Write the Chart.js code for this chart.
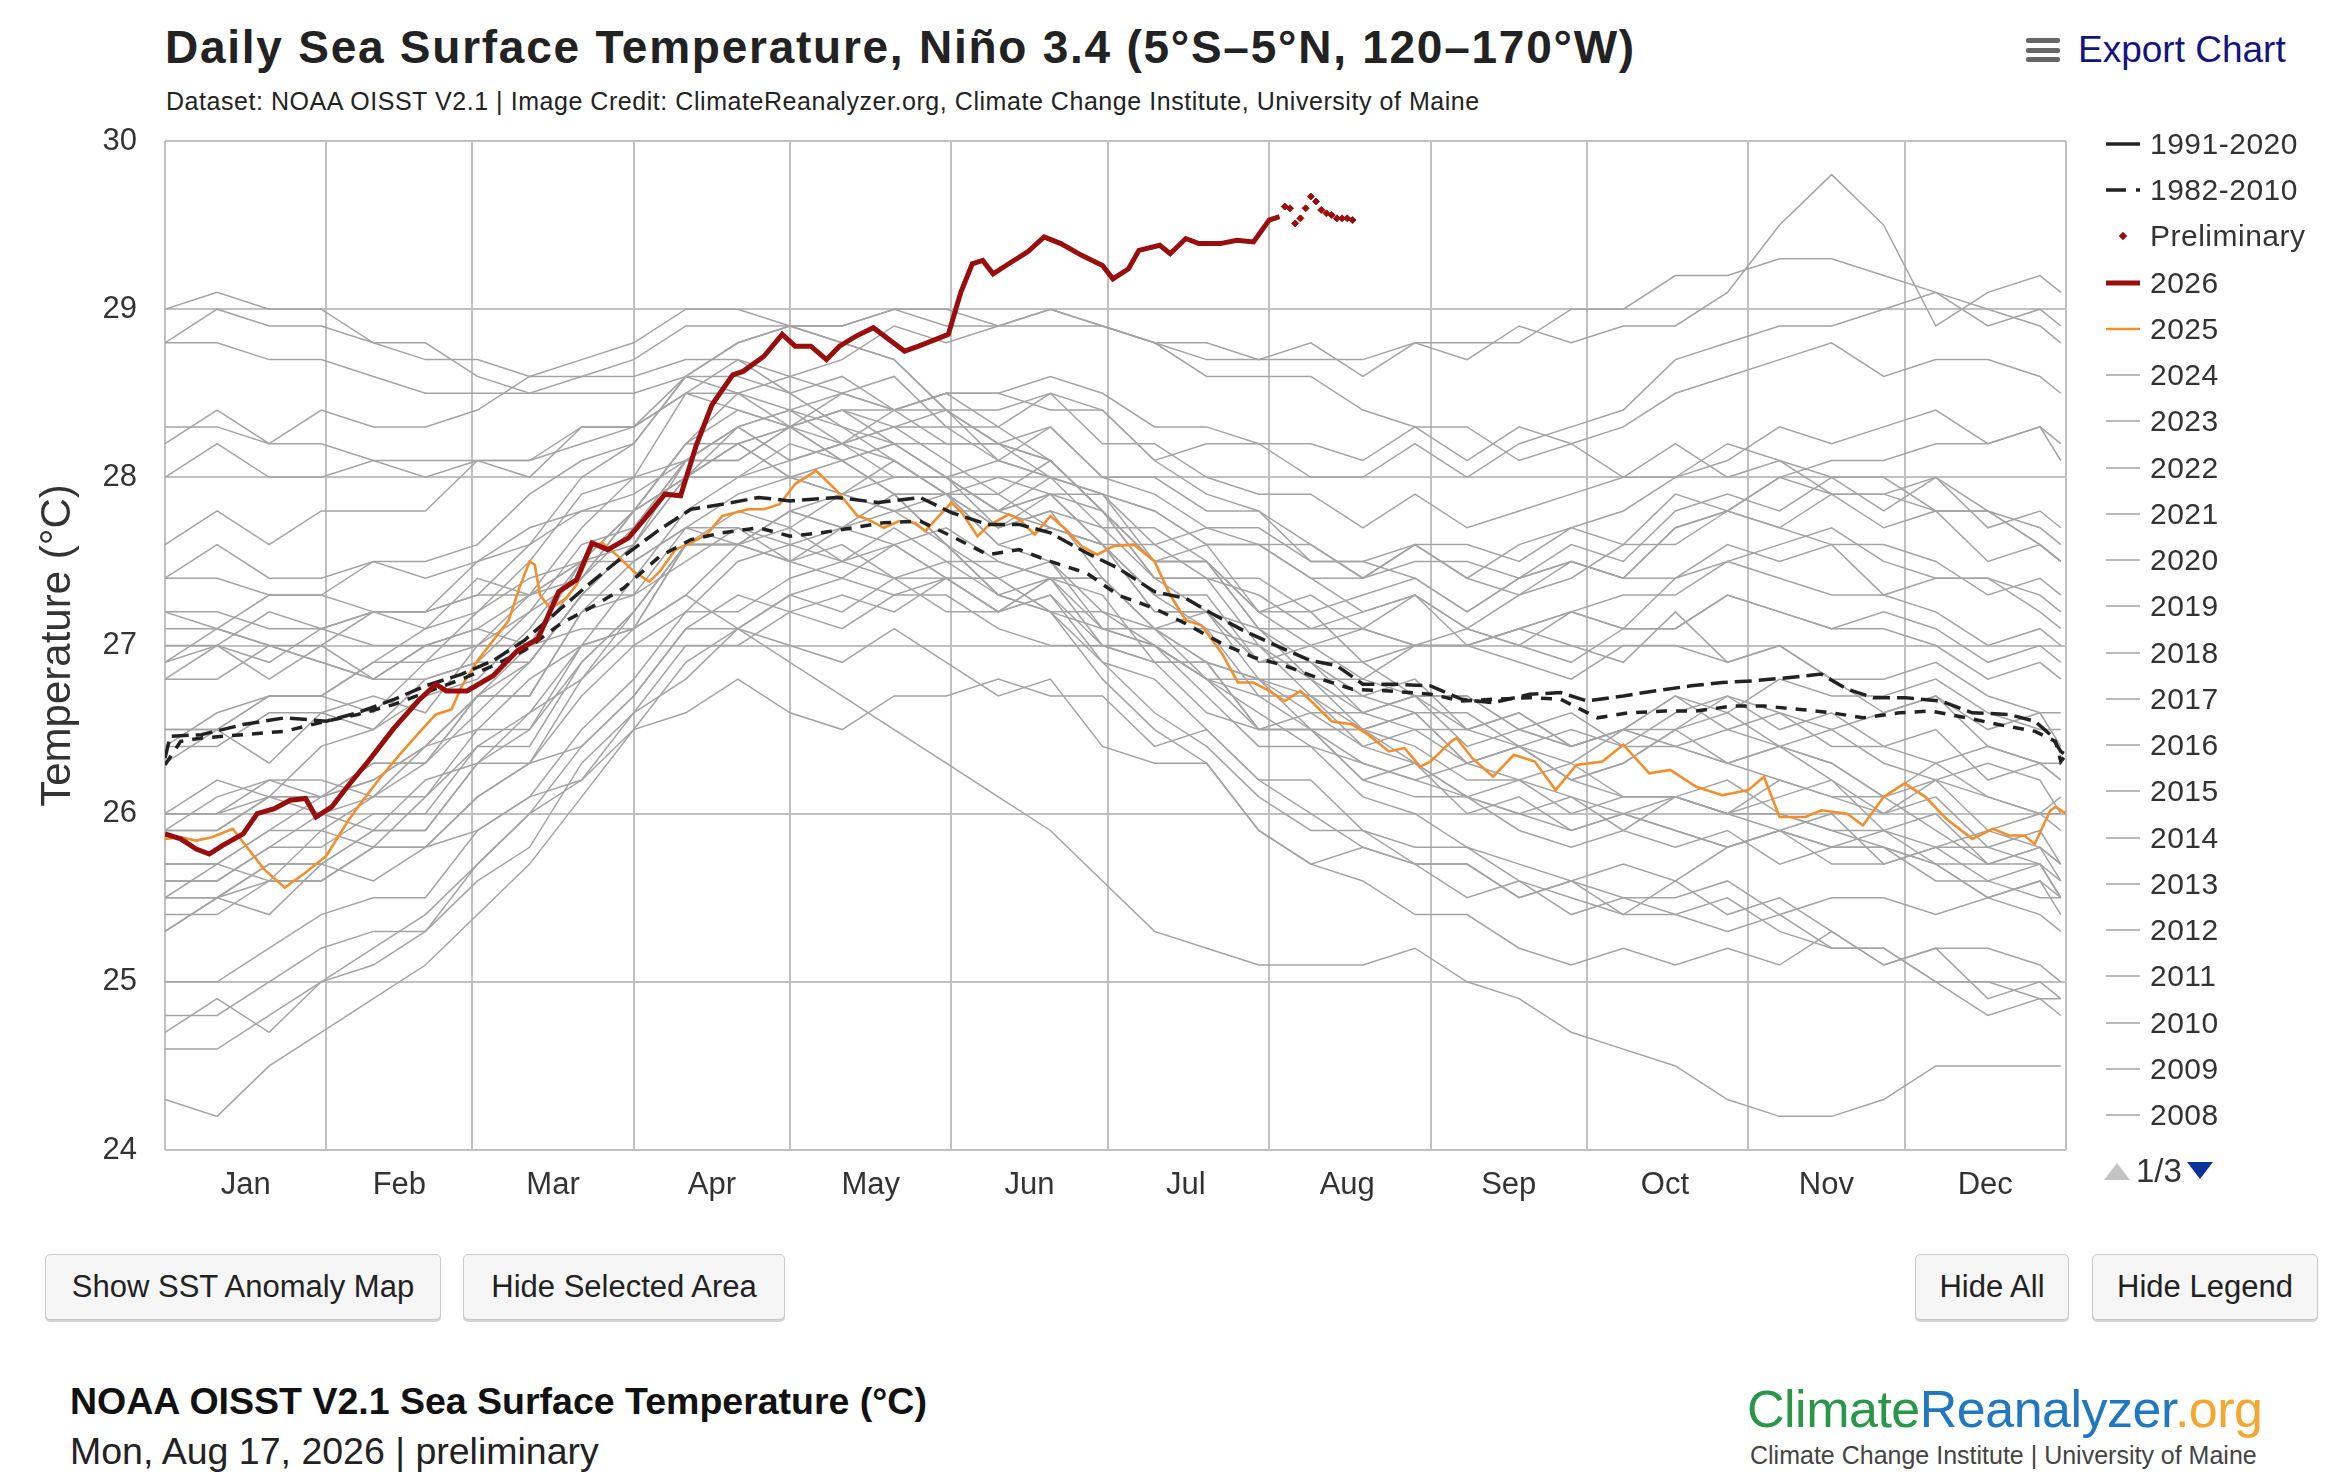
<!DOCTYPE html>
<html>
<head>
<meta charset="utf-8">
<title>Daily Sea Surface Temperature, Niño 3.4</title>
<script src="https://cdn.jsdelivr.net/npm/chart.js@4.4.1/dist/chart.umd.min.js"></script>
<style>
  html, body { margin: 0; padding: 0; background: #fff; }
  body { width: 2340px; height: 1474px; position: relative; overflow: hidden;
         font-family: "Liberation Sans", Arial, Helvetica, sans-serif; color: #222; }
  #chartTitle { position: absolute; left: 165px; top: 20px; font-size: 46px; font-weight: bold;
                letter-spacing: 1.75px; white-space: nowrap; color: #222; }
  #chartSub { position: absolute; left: 166px; top: 87px; font-size: 25px; letter-spacing: 0.55px; white-space: nowrap; color: #222; }
  #exportBtn { position: absolute; left: 2026px; top: 28px; height: 44px; display: flex; align-items: center; }
  #exportBtn .bars { width: 34px; height: 24px; position: relative; margin-right: 18px; }
  #exportBtn .bars span { position: absolute; left: 0; width: 34px; height: 5px; background: #666; border-radius: 2px; }
  #exportBtn .txt { font-size: 37px; color: #14147f; }
  #sst { position: absolute; left: 0; top: 0; }
  #legend { position: absolute; left: 2100px; top: 0; width: 240px; height: 1230px; }
  .item { position: absolute; left: 0; height: 40px; display: flex; align-items: center; white-space: nowrap;
          font-size: 30px; color: #333; letter-spacing: 0.5px; }
  .item svg { margin-left: 6px; margin-right: 10px; }
  #pager { position: absolute; left: 4px; top: 1150px; height: 42px; display: flex; align-items: center;
           font-size: 33px; color: #333; }
  .btn { position: absolute; top: 1254px; height: 66px; box-sizing: border-box; border: 1.5px solid #c8c8c8;
         border-radius: 5px; background: #f6f6f6; font-size: 31px; color: #222; display: flex;
         align-items: center; justify-content: center; box-shadow: 0 2px 0 #d4d4d4; white-space: nowrap; }
  #foot1 { position: absolute; left: 70px; top: 1380px; font-size: 37.5px; font-weight: bold; color: #111; white-space: nowrap; }
  #foot2 { position: absolute; left: 70px; top: 1430px; font-size: 37.5px; color: #222; white-space: nowrap; }
  #logo { position: absolute; left: 1747px; top: 1379px; font-size: 52px; white-space: nowrap; letter-spacing: -0.5px; }
  #logoSub { position: absolute; left: 1750px; top: 1441px; font-size: 25px; color: #444; white-space: nowrap; }
</style>
</head>
<body>
<div id="chartTitle">Daily Sea Surface Temperature, Niño 3.4 (5°S–5°N, 120–170°W)</div>
<div id="chartSub">Dataset: NOAA OISST V2.1 | Image Credit: ClimateReanalyzer.org, Climate Change Institute, University of Maine</div>
<div id="exportBtn"><div class="bars"><span style="top:0"></span><span style="top:9.5px"></span><span style="top:19px"></span></div><span class="txt">Export Chart</span></div>

<canvas id="sst" width="2340" height="1230"></canvas>
<div id="legend"></div>

<div class="btn" style="left:45px;width:396px">Show SST Anomaly Map</div>
<div class="btn" style="left:463px;width:322px">Hide Selected Area</div>
<div class="btn" style="left:1915px;width:154px">Hide All</div>
<div class="btn" style="left:2092px;width:226px">Hide Legend</div>

<div id="foot1">NOAA OISST V2.1 Sea Surface Temperature (°C)</div>
<div id="foot2">Mon, Aug 17, 2026 | preliminary</div>
<div id="logo"><span style="color:#2a9648">Climate</span><span style="color:#2177c0">Reanalyzer</span><span style="color:#f4a62e">.org</span></div>
<div id="logoSub">Climate Change Institute | University of Maine</div>

<script>
// x axis: day of year
const monthStarts = [0, 31, 59, 90, 120, 151, 181, 212, 243, 273, 304, 334, 365];
const monthMids = [15.5, 45, 74.5, 105, 135.5, 166, 196, 227, 258, 288, 319, 349.5];
const monthNames = ['Jan', 'Feb', 'Mar', 'Apr', 'May', 'Jun', 'Jul', 'Aug', 'Sep', 'Oct', 'Nov', 'Dec'];

const days2026 = [0,3,6,8.5,11,15,17.7,21,24,27,29,32,35,39,44,48.6,52,54,58,63,67.7,71.6,75.6,79,82,85,89,92,96,99,102,105,109,111,115,118.5,121,124,127,129.5,132.7,136,139,142,144.7,148,150.4,152.8,155,157,159,162,165.6,168.8,172,176,180,182,185,187,191,193,196,198.5,202.6,205.8,209,212,214];
const sst2026 = [25.88,25.85,25.79,25.76,25.81,25.88,26.0,26.03,26.08,26.09,25.98,26.04,26.16,26.31,26.51,26.67,26.77,26.73,26.73,26.82,26.97,27.04,27.32,27.39,27.61,27.57,27.64,27.75,27.90,27.89,28.19,28.43,28.61,28.63,28.72,28.85,28.78,28.78,28.70,28.78,28.84,28.89,28.82,28.75,28.78,28.82,28.85,29.10,29.27,29.29,29.21,29.27,29.34,29.43,29.39,29.32,29.26,29.18,29.24,29.35,29.38,29.33,29.42,29.39,29.39,29.41,29.40,29.53,29.55];

// preliminary days
const daysPrelim = [215,216,217,218,219,220,221,222,223,224,225,226,227,228];
const sstPrelim = [29.61,29.60,29.51,29.54,29.60,29.67,29.64,29.59,29.57,29.56,29.54,29.54,29.54,29.53];

// 2025
const days2025 = [0,3,6,9,13,15,19,23,27,31,35,38,41,45,49,52,55,57,60,63,66,68,70,71,72,74,77,79,82,84,87,90,93,95,98,101,104,107,112,115,118,121,125,129,133,135,138,141,144,146,148,151,153,156,158,162,164,167,170,173,176,179,182,186,190,193,196,199,203,206,209,212,215,218,221,224,228,231,235,238,241,243,247,248,251,255,259,263,267,271,276,280,285,289,294,299,304,307,310,315,318,323,326,330,334,338,342,347,349,351,354,357,359,362,363,365];
const sst2025 = [25.85,25.86,25.84,25.86,25.91,25.83,25.67,25.56,25.65,25.75,25.95,26.08,26.2,26.35,26.49,26.59,26.62,26.76,26.91,27.03,27.15,27.34,27.50,27.48,27.30,27.22,27.28,27.36,27.59,27.61,27.53,27.44,27.38,27.44,27.57,27.61,27.66,27.77,27.81,27.81,27.84,27.96,28.04,27.92,27.77,27.75,27.70,27.74,27.73,27.68,27.75,27.85,27.79,27.65,27.71,27.78,27.75,27.66,27.77,27.69,27.59,27.54,27.59,27.60,27.50,27.30,27.15,27.12,26.95,26.78,26.78,26.73,26.67,26.73,26.64,26.55,26.53,26.47,26.37,26.39,26.28,26.31,26.43,26.45,26.33,26.22,26.35,26.31,26.14,26.29,26.31,26.41,26.24,26.26,26.16,26.11,26.14,26.22,25.98,25.98,26.02,26.00,25.93,26.10,26.18,26.10,25.97,25.85,25.88,25.91,25.87,25.87,25.82,26.02,26.04,26.00];

// climatologies
const days9120 = [0,1,7,15,23,31,37,44,50,57,63,69,76,82,88,95,101,107,114,120,129,137,145,151,158,164,170,177,183,190,196,201,207,214,220,225,230,236,243,249,255,262,268,273,280,286,293,299,305,312,318,323,328,334,341,347,354,359,362,364,365];
const clim9120 = [26.33,26.46,26.47,26.53,26.57,26.55,26.60,26.68,26.76,26.83,26.91,27.03,27.22,27.38,27.53,27.69,27.81,27.84,27.88,27.86,27.88,27.85,27.88,27.79,27.72,27.72,27.67,27.55,27.46,27.32,27.28,27.19,27.09,26.99,26.91,26.88,26.77,26.77,26.76,26.68,26.66,26.71,26.72,26.67,26.70,26.73,26.76,26.78,26.79,26.81,26.83,26.74,26.69,26.69,26.67,26.60,26.59,26.55,26.47,26.37,26.35];
const days8210 = [0,3,7,15,23,31,37,44,50,57,63,69,76,82,88,95,101,107,114,120,126,132,138,145,151,158,164,170,177,183,190,196,203,209,215,222,228,235,243,249,255,262,268,275,281,288,294,301,307,314,320,326,333,339,346,352,359,363,364,365];
const clim8210 = [26.29,26.43,26.45,26.47,26.49,26.55,26.59,26.65,26.72,26.80,26.88,26.97,27.13,27.23,27.34,27.53,27.63,27.67,27.70,27.65,27.67,27.70,27.73,27.74,27.65,27.54,27.57,27.50,27.43,27.30,27.22,27.13,27.01,26.93,26.88,26.80,26.74,26.73,26.71,26.67,26.68,26.69,26.68,26.57,26.60,26.61,26.61,26.64,26.64,26.62,26.60,26.57,26.60,26.61,26.57,26.53,26.49,26.43,26.31,26.35];

// past years, sampled every 10 days
const grayDays = [0,10,20,30,40,50,60,70,80,90,100,110,120,130,140,150,160,170,180,190,200,210,220,230,240,250,260,270,280,290,300,310,320,330,340,350,360,364];
const sst1982 = [26.4,26.4,26.6,26.6,26.5,26.8,26.9,27.2,27.4,27.7,28.1,28.3,28.4,28.5,28.4,28.5,28.3,28.5,28.4,28.1,28.2,28.2,28.0,28.0,28.2,28.0,28.2,28.3,28.4,28.7,28.8,28.9,28.9,29.0,29.1,28.9,29.0,28.9];
const sst1983 = [28.8,29.0,28.9,28.9,28.8,28.7,28.7,28.6,28.6,28.7,28.9,28.9,28.9,28.8,28.7,28.4,28.2,28.1,27.8,27.4,27.2,26.8,26.7,26.5,26.4,26.2,26.2,26.1,26.0,26.1,26.0,26.0,25.9,25.8,25.7,25.7,25.7,25.5];
const sst1984 = [25.9,26.1,26.2,26.1,26.2,26.4,26.5,26.8,27.0,27.1,27.6,27.6,27.5,27.4,27.6,27.4,27.2,27.4,27.1,27.1,26.9,26.8,26.8,26.5,26.6,26.3,26.2,26.3,26.1,26.1,26.2,26.0,25.9,25.9,25.7,25.5,25.6,25.4];
const sst1985 = [25.3,25.5,25.6,25.6,25.8,25.8,26.1,26.3,26.4,26.7,27.1,27.3,27.2,27.1,27.3,27.3,27.1,27.0,27.0,26.9,26.6,26.5,26.5,26.3,26.2,26.3,26.4,26.2,26.3,26.5,26.6,26.4,26.5,26.3,26.2,26.3,26.2,26.0];
const sst1986 = [25.9,25.9,26.1,26.1,26.3,26.3,26.7,26.7,27.2,27.5,27.7,27.9,28.0,27.9,28.1,27.9,28.0,27.9,27.9,27.8,27.6,27.6,27.6,27.4,27.6,27.6,27.5,27.7,27.6,27.9,27.8,28.0,27.9,27.9,28.0,27.7,27.8,27.7];
const sst1987 = [27.6,27.8,27.6,27.8,27.8,27.8,28.1,28.0,28.3,28.3,28.6,28.8,28.9,28.9,29.0,29.0,28.9,28.9,28.9,28.8,28.6,28.6,28.6,28.4,28.3,28.3,28.1,28.2,28.0,28.2,28.0,28.1,27.9,27.9,27.8,27.8,27.6,27.5];
const sst1988 = [27.2,27.2,27.1,27.1,27.0,27.0,27.1,27.0,27.1,27.1,27.3,27.1,26.9,26.7,26.5,26.3,26.1,25.9,25.6,25.3,25.2,25.1,25.1,25.1,25.2,25.0,24.9,24.7,24.6,24.5,24.3,24.2,24.2,24.3,24.5,24.5,24.5,24.5];
const sst1989 = [24.3,24.2,24.5,24.7,24.9,25.1,25.4,25.7,26.1,26.5,26.9,27.1,27.3,27.4,27.3,27.4,27.4,27.2,27.2,27.1,26.8,26.7,26.7,26.4,26.5,26.5,26.4,26.3,26.5,26.5,26.7,26.6,26.5,26.6,26.7,26.5,26.6,26.4];
const sst1990 = [26.5,26.5,26.7,26.7,26.9,26.9,27.2,27.4,27.5,27.8,28.0,28.2,28.0,28.1,28.2,28.0,28.1,28.0,27.7,27.7,27.5,27.2,27.3,27.1,27.3,27.1,27.0,26.9,27.1,27.1,27.3,27.2,27.1,27.2,27.1,26.9,27.0,26.9];
const sst1991 = [26.8,27.0,26.8,27.0,26.8,27.0,27.1,27.3,27.4,27.8,28.2,28.4,28.3,28.5,28.4,28.5,28.5,28.4,28.4,28.1,27.9,27.8,27.5,27.5,27.4,27.2,27.4,27.5,27.4,27.7,27.8,28.0,28.1,28.1,28.2,28.2,28.3,28.2];
const sst1992 = [28.2,28.4,28.2,28.4,28.3,28.3,28.4,28.6,28.7,28.8,29.0,29.0,28.9,28.8,28.7,28.4,28.2,28.1,27.8,27.5,27.5,27.1,26.9,26.9,26.7,26.5,26.6,26.4,26.5,26.7,26.6,26.8,26.7,26.7,26.8,26.6,26.5,26.5];
const sst1993 = [26.4,26.6,26.7,26.7,26.9,27.1,27.2,27.5,27.9,28.0,28.5,28.7,28.6,28.5,28.6,28.3,28.3,28.1,27.8,27.5,27.6,27.2,27.2,26.9,27.0,27.0,26.9,26.8,27.0,27.0,26.9,27.0,26.8,26.8,26.9,26.7,26.6,26.6];
const sst1994 = [26.5,26.5,26.7,26.7,26.6,26.9,27.0,27.3,27.5,27.8,28.2,28.2,28.3,28.4,28.2,28.2,28.2,28.0,27.9,27.8,27.6,27.6,27.4,27.4,27.5,27.5,27.4,27.6,27.5,27.8,27.9,27.8,28.0,27.8,28.0,27.8,27.7,27.6];
const sst1995 = [27.4,27.6,27.4,27.4,27.5,27.4,27.5,27.7,27.8,27.9,28.1,28.3,28.1,28.2,28.0,28.0,27.7,27.8,27.4,27.1,27.1,26.7,26.5,26.5,26.3,26.1,26.0,25.9,26.0,25.9,25.8,25.9,26.0,25.7,25.8,25.8,25.7,25.6];
const sst1996 = [25.5,25.5,25.7,25.7,25.9,25.9,26.3,26.3,26.8,27.1,27.3,27.6,27.5,27.7,27.6,27.7,27.5,27.4,27.4,27.1,26.9,26.8,26.5,26.5,26.6,26.3,26.4,26.2,26.3,26.5,26.3,26.4,26.3,26.1,26.3,26.1,26.0,26.0];
const sst1997 = [25.9,25.9,26.1,26.1,26.3,26.3,26.7,27.0,27.4,27.8,28.2,28.5,28.6,28.7,28.9,28.8,28.9,29.0,28.9,28.8,28.7,28.7,28.7,28.7,28.8,28.8,28.8,29.0,29.0,29.2,29.2,29.3,29.3,29.2,29.1,29.0,28.9,28.8];
const sst1998 = [28.8,28.8,28.7,28.7,28.6,28.5,28.5,28.5,28.5,28.5,28.6,28.5,28.3,28.1,27.9,27.6,27.3,27.2,26.9,26.6,26.4,26.1,25.9,25.9,25.7,25.7,25.5,25.6,25.4,25.6,25.4,25.5,25.3,25.1,25.2,24.9,25.0,24.9];
const sst1999 = [24.8,24.8,25.0,25.2,25.3,25.3,25.7,26.0,26.2,26.6,26.8,27.1,27.0,26.9,27.1,26.9,26.7,26.8,26.4,26.3,26.3,25.9,25.7,25.8,25.7,25.5,25.6,25.4,25.5,25.4,25.5,25.3,25.2,25.2,25.0,24.8,24.9,24.8];
const sst2000 = [24.6,24.6,24.8,25.0,25.2,25.4,25.7,26.0,26.4,26.7,27.1,27.1,27.3,27.2,27.4,27.2,27.2,27.3,27.0,27.0,26.8,26.5,26.6,26.4,26.3,26.1,26.2,26.0,26.1,26.1,26.0,26.1,26.2,25.9,26.0,25.7,25.8,25.7];
const sst2001 = [25.7,25.7,25.9,25.9,26.1,26.1,26.5,26.5,27.0,27.1,27.6,27.6,27.8,27.7,27.9,27.9,27.6,27.7,27.6,27.3,27.1,27.0,26.7,26.7,26.8,26.5,26.6,26.4,26.5,26.7,26.5,26.6,26.4,26.4,26.5,26.2,26.3,26.2];
const sst2002 = [26.3,26.5,26.3,26.6,26.7,26.6,27.0,27.0,27.5,27.6,28.1,28.1,28.3,28.4,28.3,28.4,28.4,28.5,28.2,28.2,28.0,27.9,27.9,27.7,27.9,27.7,27.8,27.9,28.0,28.0,28.2,28.1,28.0,28.0,27.8,27.8,27.6,27.5];
const sst2003 = [27.4,27.4,27.3,27.3,27.2,27.2,27.3,27.3,27.5,27.5,27.7,27.7,27.6,27.7,27.8,27.8,27.8,27.9,27.8,27.5,27.5,27.2,27.0,27.1,27.0,27.1,27.0,27.2,27.1,27.1,27.3,27.2,27.1,27.1,27.0,26.8,26.9,26.8];
const sst2004 = [26.8,26.8,27.0,26.9,26.8,27.0,27.0,27.2,27.6,27.7,28.1,28.1,28.3,28.2,28.4,28.2,28.2,28.3,28.0,28.0,27.8,27.8,27.6,27.4,27.6,27.4,27.3,27.5,27.4,27.4,27.6,27.5,27.6,27.3,27.4,27.4,27.3,27.2];
const sst2005 = [27.0,27.0,27.2,27.1,27.2,27.1,27.4,27.3,27.7,28.0,28.1,28.3,28.1,28.2,28.1,27.9,27.9,27.7,27.6,27.2,27.2,26.9,26.9,26.6,26.7,26.7,26.5,26.4,26.5,26.4,26.3,26.2,26.1,26.1,25.9,25.7,25.8,25.6];
const sst2006 = [25.5,25.7,25.6,25.9,25.8,26.1,26.4,26.4,26.9,27.2,27.6,27.6,27.8,27.9,27.8,27.9,27.7,27.9,27.6,27.6,27.4,27.4,27.2,27.3,27.4,27.2,27.4,27.5,27.4,27.7,27.8,27.7,27.9,27.7,27.8,27.5,27.6,27.5];
const sst2007 = [27.2,27.1,27.0,26.9,26.8,26.8,26.9,26.9,27.3,27.3,27.7,27.6,27.7,27.5,27.6,27.4,27.2,27.3,26.9,26.8,26.5,26.2,26.2,25.9,25.8,25.8,25.6,25.5,25.4,25.4,25.3,25.4,25.2,25.2,25.0,25.0,24.9,24.9];
const sst2008 = [24.7,24.9,24.7,25.0,25.1,25.3,25.6,25.8,26.3,26.6,27.0,27.0,27.2,27.3,27.2,27.4,27.2,27.4,27.4,27.1,27.2,27.1,26.8,26.8,26.7,26.7,26.5,26.4,26.5,26.4,26.3,26.4,26.2,26.0,26.1,25.8,25.9,25.7];
const sst2009 = [25.6,25.6,25.8,25.8,26.0,26.0,26.4,26.6,27.0,27.4,27.8,28.0,28.1,28.2,28.3,28.3,28.1,28.3,28.0,27.9,27.7,27.7,27.5,27.5,27.6,27.4,27.6,27.7,27.8,28.0,28.1,28.3,28.2,28.3,28.4,28.2,28.3,28.1];
const sst2010 = [28.0,28.2,28.0,28.0,28.1,28.0,28.1,28.1,28.3,28.3,28.5,28.4,28.3,28.1,27.9,27.6,27.3,27.2,26.8,26.5,26.3,25.9,25.7,25.6,25.4,25.4,25.2,25.1,25.2,25.1,25.2,25.1,25.3,25.1,25.2,25.2,25.1,25.0];
const sst2011 = [25.0,25.0,25.2,25.4,25.5,25.5,25.9,26.1,26.5,26.8,27.2,27.2,27.4,27.5,27.4,27.5,27.5,27.4,27.3,26.9,26.9,26.5,26.5,26.2,26.1,26.1,25.9,25.8,25.9,25.8,25.9,25.7,25.8,25.8,25.6,25.6,25.7,25.5];
const sst2012 = [25.6,25.6,25.8,26.0,25.9,26.2,26.3,26.6,26.8,27.2,27.6,27.8,27.7,27.9,28.0,28.0,27.8,28.0,27.9,27.6,27.7,27.6,27.4,27.2,27.3,27.0,27.1,27.0,26.9,27.2,26.9,27.0,26.8,26.6,26.7,26.4,26.3,26.3];
const sst2013 = [26.0,26.0,26.2,26.2,26.1,26.4,26.7,26.7,27.2,27.3,27.5,27.7,27.5,27.6,27.4,27.4,27.4,27.2,27.1,27.0,26.8,26.8,26.6,26.6,26.7,26.4,26.5,26.6,26.4,26.6,26.7,26.5,26.6,26.4,26.3,26.4,26.3,26.2];
const sst2014 = [26.0,26.0,26.1,26.0,26.1,26.3,26.6,26.9,27.3,27.6,28.0,28.0,28.2,28.1,28.2,28.0,27.8,27.7,27.6,27.2,27.2,26.9,27.0,26.8,27.0,27.0,27.1,27.2,27.1,27.4,27.5,27.6,27.7,27.5,27.4,27.4,27.2,27.1];
const sst2015 = [26.9,27.0,26.9,27.1,27.2,27.2,27.5,27.6,28.0,28.2,28.6,28.8,28.9,28.9,29.0,28.9,28.9,29.0,28.9,28.8,28.8,28.7,28.8,28.6,28.8,28.7,28.9,28.8,28.9,28.9,29.1,29.5,29.8,29.5,28.9,29.1,29.2,29.1];
const sst2016 = [29.0,29.1,29.0,29.0,28.8,28.8,28.6,28.5,28.6,28.6,28.7,28.7,28.5,28.3,28.1,27.9,27.6,27.5,27.2,27.0,26.8,26.6,26.4,26.3,26.2,26.1,26.0,26.1,25.9,26.1,26.0,26.2,26.1,26.0,26.2,26.1,26.0,26.1];
const sst2017 = [26.0,26.2,26.1,26.4,26.5,26.7,26.8,27.1,27.5,27.8,28.0,28.3,28.4,28.2,28.3,28.1,27.9,28.1,27.8,27.4,27.4,27.0,26.8,26.6,26.5,26.3,26.4,26.2,26.1,26.1,26.0,25.9,25.8,25.8,25.7,25.5,25.6,25.5];
const sst2018 = [25.5,25.5,25.7,25.7,25.9,25.9,26.3,26.5,26.9,27.2,27.6,27.6,27.8,27.7,27.9,27.9,27.7,27.8,27.7,27.4,27.4,27.3,27.1,27.2,27.3,27.1,27.3,27.4,27.6,27.6,27.8,27.7,27.6,27.6,27.5,27.3,27.4,27.3];
const sst2019 = [27.1,27.1,27.3,27.3,27.5,27.5,27.6,27.9,28.1,28.2,28.6,28.6,28.5,28.6,28.4,28.4,28.1,28.0,27.9,27.5,27.5,27.1,27.1,27.1,27.0,27.0,27.1,27.2,27.3,27.3,27.5,27.4,27.3,27.3,27.2,27.0,27.1,27.0];
const sst2020 = [26.9,27.1,27.0,27.0,27.2,27.2,27.3,27.6,27.8,27.8,28.0,28.2,28.0,27.9,27.8,27.6,27.4,27.5,27.1,27.0,26.7,26.4,26.4,26.1,26.0,25.8,25.7,25.6,25.5,25.5,25.6,25.4,25.5,25.5,25.4,25.5,25.4,25.3];
const sst2021 = [25.3,25.5,25.4,25.7,25.6,25.8,26.1,26.3,26.7,27.0,27.2,27.5,27.6,27.5,27.7,27.5,27.3,27.4,27.0,26.9,26.9,26.5,26.5,26.2,26.3,26.0,26.1,25.9,26.0,25.9,25.8,25.9,25.7,25.7,25.8,25.6,25.5,25.5];
const sst2022 = [25.4,25.4,25.6,25.6,25.8,25.8,25.9,26.1,26.2,26.5,26.6,26.8,26.6,26.5,26.7,26.7,26.8,26.7,26.7,26.4,26.5,26.2,26.0,25.8,25.7,25.7,25.5,25.6,25.7,25.6,25.8,25.9,25.8,25.9,25.8,25.9,25.8,25.7];
const sst2023 = [25.7,25.7,25.9,26.1,26.2,26.4,26.7,26.9,27.3,27.6,28.0,28.2,28.3,28.4,28.4,28.5,28.5,28.6,28.5,28.3,28.3,28.2,28.2,28.1,28.3,28.1,28.3,28.2,28.3,28.5,28.6,28.7,28.8,28.6,28.7,28.7,28.6,28.5];
const sst2024 = [28.3,28.3,28.2,28.2,28.1,28.1,28.1,28.1,28.2,28.3,28.5,28.5,28.4,28.3,28.2,28.0,27.8,27.9,27.6,27.3,27.3,26.9,26.9,26.7,26.6,26.6,26.4,26.5,26.4,26.4,26.5,26.4,26.3,26.1,26.2,25.9,26.0,25.9];

const grayYears = [
  ['2024', sst2024], ['2023', sst2023], ['2022', sst2022], ['2021', sst2021], ['2020', sst2020],
  ['2019', sst2019], ['2018', sst2018], ['2017', sst2017], ['2016', sst2016], ['2015', sst2015],
  ['2014', sst2014], ['2013', sst2013], ['2012', sst2012], ['2011', sst2011], ['2010', sst2010],
  ['2009', sst2009], ['2008', sst2008], ['2007', sst2007], ['2006', sst2006], ['2005', sst2005],
  ['2004', sst2004], ['2003', sst2003], ['2002', sst2002], ['2001', sst2001], ['2000', sst2000],
  ['1999', sst1999], ['1998', sst1998], ['1997', sst1997], ['1996', sst1996], ['1995', sst1995],
  ['1994', sst1994], ['1993', sst1993], ['1992', sst1992], ['1991', sst1991], ['1990', sst1990],
  ['1989', sst1989], ['1988', sst1988], ['1987', sst1987], ['1986', sst1986], ['1985', sst1985],
  ['1984', sst1984], ['1983', sst1983], ['1982', sst1982]
];

function pairs(xs, ys) {
  return xs.map((x, i) => ({ x: x, y: ys[i] }));
}

const RED = '#990d0d';
const ORANGE = '#f28e2b';
const GRAY = '#a3a3a3';

const datasets = [
  { label: 'Preliminary', data: pairs(daysPrelim, sstPrelim), showLine: false,
    pointStyle: 'rectRot', pointRadius: 3.5, pointBackgroundColor: RED, pointBorderColor: RED, borderColor: RED,
    legendKind: 'dot' },
  { label: '2026', data: pairs(days2026, sst2026), borderColor: RED, borderWidth: 5 },
  { label: '1991-2020', data: pairs(days9120, clim9120), borderColor: '#222', borderWidth: 3.5,
    borderDash: [17, 7], legendDash: null },
  { label: '1982-2010', data: pairs(days8210, clim8210), borderColor: '#222', borderWidth: 3.5,
    borderDash: [11, 9], legendDash: '20,10,4,10' },
  { label: '2025', data: pairs(days2025, sst2025), borderColor: ORANGE, borderWidth: 2.6 }
];
grayYears.forEach(([name, vals]) => {
  datasets.push({ label: name, data: pairs(grayDays, vals), borderColor: GRAY, borderWidth: 1.5 });
});
datasets.forEach(d => { d.xAxisID = 'x'; d.yAxisID = 'y'; d.fill = false; d.tension = 0; if (d.showLine !== false) d.pointRadius = 0; });

const tickFont = { family: '"Liberation Sans", Arial, sans-serif', size: 31 };

new Chart(document.getElementById('sst'), {
  type: 'line',
  data: { datasets: datasets },
  options: {
    responsive: false,
    animation: false,
    devicePixelRatio: 1,
    layout: { padding: { top: 141, right: 274, left: 0, bottom: 0 } },
    plugins: { legend: { display: false }, tooltip: { enabled: false } },
    scales: {
      x: {
        type: 'linear', axis: 'x', position: 'bottom', min: 0, max: 365,
        afterBuildTicks: ax => { ax.ticks = monthStarts.map(v => ({ value: v })); },
        afterFit: ax => { ax.height = 0; },
        ticks: { display: false },
        grid: { color: '#c0c0c0', lineWidth: 2, drawTicks: false },
        border: { display: false }
      },
      x2: {
        type: 'linear', axis: 'x', position: 'bottom', min: 0, max: 365,
        afterBuildTicks: ax => { ax.ticks = monthMids.map(v => ({ value: v })); },
        afterFit: ax => { ax.height = 80; },
        ticks: { autoSkip: false, maxRotation: 0, padding: 17, color: '#333', font: tickFont,
                 callback: (v, i) => monthNames[i] },
        grid: { display: false, drawTicks: false },
        border: { display: false }
      },
      y: {
        min: 24, max: 30,
        afterFit: ax => { ax.width = 165; },
        ticks: { stepSize: 1, padding: 28, color: '#333', font: tickFont },
        grid: { color: '#c0c0c0', lineWidth: 2, drawTicks: false },
        border: { display: false },
        title: { display: true, text: 'Temperature (°C)', color: '#333',
                 font: { family: '"Liberation Sans", Arial, sans-serif', size: 42 }, padding: { top: 33 } }
      }
    }
  }
});

// legend, first page (order as in the original)
const legendOrder = ['1991-2020', '1982-2010', 'Preliminary', '2026', '2025',
  '2024', '2023', '2022', '2021', '2020', '2019', '2018', '2017', '2016', '2015', '2014',
  '2013', '2012', '2011', '2010', '2009', '2008'];
const legendBox = document.getElementById('legend');
legendOrder.forEach((name, i) => {
  const d = datasets.find(s => s.label === name);
  const cy = 144 + i * 46.24;
  let sample;
  if (d.legendKind === 'dot') {
    sample = '<svg width="34" height="12"><rect x="14" y="3" width="6" height="6" fill="' + RED + '" transform="rotate(45 17 6)"/></svg>';
  } else {
    const dash = d.legendDash ? ' stroke-dasharray="' + d.legendDash + '"' : '';
    const w = Math.min(d.borderWidth, 5);
    sample = '<svg width="34" height="12"><line x1="0" y1="6" x2="34" y2="6" stroke="' + d.borderColor +
             '" stroke-width="' + w + '"' + dash + '/></svg>';
  }
  const el = document.createElement('div');
  el.className = 'item';
  el.style.top = (cy - 20) + 'px';
  el.innerHTML = sample + '<span>' + name + '</span>';
  legendBox.appendChild(el);
});
const pager = document.createElement('div');
pager.id = 'pager';
pager.innerHTML = '<svg width="28" height="20"><polygon points="0,19 26,19 13,2" fill="#c4c4c4"/></svg>' +
  '<span style="margin:0 5px 0 4px">1/3</span>' +
  '<svg width="28" height="20"><polygon points="0,1 26,1 13,18" fill="#0a3399"/></svg>';
legendBox.appendChild(pager);
</script>
</body>
</html>
